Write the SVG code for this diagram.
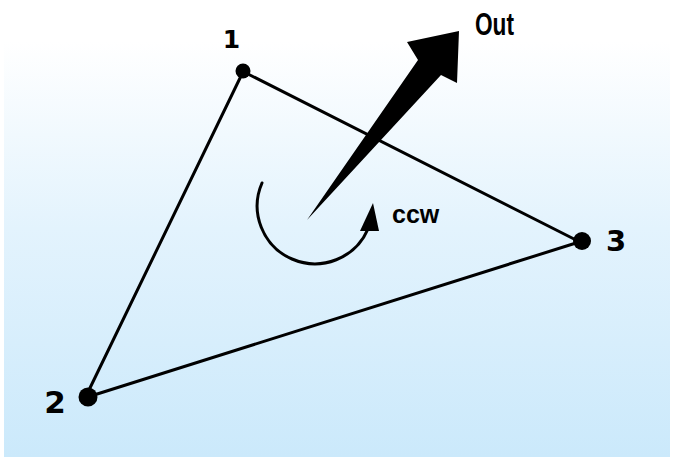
<svg xmlns="http://www.w3.org/2000/svg" width="676" height="460" viewBox="0 0 676 460">
<defs>
<linearGradient id="bg" x1="0" y1="0" x2="0" y2="1">
<stop offset="0" stop-color="#ffffff"/>
<stop offset="0.09" stop-color="#ffffff"/>
<stop offset="0.5" stop-color="#e3f3fd"/>
<stop offset="1" stop-color="#cbe9fb"/>
</linearGradient>
<style>
.edge{stroke:#000;stroke-width:3;fill:none;stroke-linecap:round}
.dot{fill:#000}
.num{font-family:"DejaVu Sans",sans-serif;font-weight:bold;fill:#000;text-anchor:middle}
.lbl{font-family:"Liberation Sans",Arial,sans-serif;fill:#000}
</style>
</defs>
<rect x="0" y="0" width="676" height="460" fill="#ffffff"/>
<rect x="4" y="0" width="666" height="457" fill="url(#bg)"/>
<g id="connectors">
<line class="edge" x1="241" y1="76" x2="89" y2="390"/>
<line class="edge" x1="246" y1="73" x2="576" y2="240"/>
<line class="edge" x1="94" y1="395" x2="576" y2="243"/>
</g>
<g id="out-arrow">
<polygon class="dot" points="307,220 418,60 407,42 459,31 457,83 441,75"/>
<text class="lbl" x="475" y="35" font-size="32" font-weight="bold" textLength="39" lengthAdjust="spacingAndGlyphs">Out</text>
</g>
<g id="ccw-arrow">
<path class="edge" d="M262,183 A55,55 0 1 0 368,229"/>
<polygon class="dot" points="373,203 360,231 379,231"/>
<text class="lbl" x="392" y="223" font-size="25" font-weight="bold">ccw</text>
</g>
<g id="node1">
<circle class="dot" cx="243" cy="71" r="7.5"/>
<text class="num" x="231.5" y="48" font-size="25">1</text>
</g>
<g id="node2">
<circle class="dot" cx="88" cy="397" r="9.5"/>
<text class="num" x="55" y="413" font-size="31">2</text>
</g>
<g id="node3">
<circle class="dot" cx="582" cy="241" r="9"/>
<text class="num" x="616" y="251" font-size="29">3</text>
</g>
</svg>
